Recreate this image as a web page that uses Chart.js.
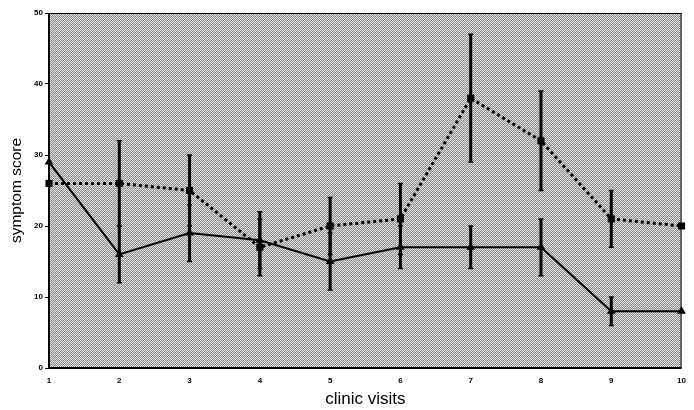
<!DOCTYPE html>
<html>
<head>
<meta charset="utf-8">
<script src="https://cdn.jsdelivr.net/npm/chart.js@4/dist/chart.umd.min.js"></script>
<style>
  html, body { margin: 0; padding: 0; background: #ffffff; }
  #wrap { width: 694px; height: 410px; position: relative; }
</style>
</head>
<body>
<div id="wrap"><canvas id="c" width="694" height="410"></canvas></div>
<script>
// ---- data ----
const visits = [1, 2, 3, 4, 5, 6, 7, 8, 9, 10];
const dottedScores = [26, 26, 25, 17, 20, 21, 38, 32, 21, 20];
const dottedUpper  = [null, 32, 30, 21, 24, 26, 47, 39, 25, null];
const dottedLower  = [null, 20, 20, 13, 16, 16, 29, 25, 17, null];
const solidScores  = [29, 16, 19, 18, 15, 17, 17, 17, 8, 8];
const solidUpper   = [null, 20, 23, 22, 19, 20, 20, 21, 10, null];
const solidLower   = [null, 12, 15, 14, 11, 14, 14, 13, 6, null];
const yTicks = [0, 10, 20, 30, 40, 50];
const xTitle = 'clinic visits';
const yTitle = 'symptom score';

// stippled grey texture
function makePattern() {
  const p = document.createElement('canvas');
  p.width = 4; p.height = 4;
  const g = p.getContext('2d');
  const cols = [
    ['#e0e0e0', '#909090', '#cccccc', '#808080'],
    ['#a0a0a0', '#eaeaea', '#8e8e8e', '#d6d6d6'],
    ['#d4d4d4', '#848484', '#e4e4e4', '#969696'],
    ['#8c8c8c', '#dadada', '#9a9a9a', '#e6e6e6']
  ];
  for (let r = 0; r < 4; r++) for (let c = 0; c < 4; c++) {
    g.fillStyle = cols[r][c]; g.fillRect(c, r, 1, 1);
  }
  return p;
}

const bgPlugin = {
  id: 'bg',
  beforeDraw(chart) {
    const { ctx, chartArea: a } = chart;
    ctx.save();
    ctx.fillStyle = ctx.createPattern(makePattern(), 'repeat');
    ctx.fillRect(a.left, a.top, a.right - a.left, a.bottom - a.top);
    ctx.restore();
  },
  afterDraw(chart) {
    const { ctx, chartArea: a } = chart;
    ctx.save();
    ctx.strokeStyle = '#000';
    ctx.lineWidth = 1;
    ctx.beginPath();
    ctx.moveTo(a.left, a.top + 0.5); ctx.lineTo(a.right, a.top + 0.5);
    ctx.moveTo(a.right - 0.5, a.top); ctx.lineTo(a.right - 0.5, a.bottom);
    ctx.stroke();
    ctx.lineWidth = 2;
    ctx.beginPath();
    ctx.moveTo(a.left, a.top); ctx.lineTo(a.left, a.bottom);
    ctx.lineTo(a.right, a.bottom);
    ctx.stroke();
    ctx.restore();
  }
};

const errPlugin = {
  id: 'err',
  beforeDatasetsDraw(chart) {
    const { ctx } = chart;
    const xs = chart.scales.x, ys = chart.scales.y;
    ctx.save();
    ctx.strokeStyle = '#000';
    const sets = [[dottedUpper, dottedLower], [solidUpper, solidLower]];
    sets.forEach(([up, lo]) => {
      visits.forEach((v, i) => {
        if (up[i] == null || lo[i] == null) return;
        const x = xs.getPixelForValue(v);
        const y1 = ys.getPixelForValue(up[i]);
        const y2 = ys.getPixelForValue(lo[i]);
        ctx.lineWidth = 3;
        ctx.beginPath(); ctx.moveTo(x, y1); ctx.lineTo(x, y2); ctx.stroke();
        ctx.lineWidth = 1.5;
        ctx.beginPath();
        ctx.moveTo(x - 2.5, y1); ctx.lineTo(x + 2.5, y1);
        ctx.moveTo(x - 2.5, y2); ctx.lineTo(x + 2.5, y2);
        ctx.stroke();
      });
    });
    ctx.restore();
  }
};

new Chart(document.getElementById('c'), {
  type: 'line',
  data: {
    datasets: [
      {
        label: 'dotted',
        data: visits.map((v, i) => ({ x: v, y: dottedScores[i] })),
        borderColor: '#000', backgroundColor: '#000',
        borderWidth: 3, borderDash: [3, 3],
        pointStyle: 'rect', pointRadius: 5, pointBorderWidth: 0,
        tension: 0, clip: false
      },
      {
        label: 'solid',
        data: visits.map((v, i) => ({ x: v, y: solidScores[i] })),
        borderColor: '#000', backgroundColor: '#000',
        borderWidth: 2,
        pointStyle: 'triangle', pointRadius: 5, pointBorderWidth: 0,
        tension: 0, clip: false
      }
    ]
  },
  options: {
    responsive: false,
    animation: false,
    layout: { padding: { left: 0, right: 3, top: 13, bottom: 0 } },
    plugins: { legend: { display: false }, tooltip: { enabled: false } },
    scales: {
      x: {
        type: 'linear', min: 1, max: 10,
        afterFit(s) { s.height = 42; },
        afterBuildTicks(s) { s.ticks = visits.map(v => ({ value: v })); },
        grid: { drawOnChartArea: false, drawTicks: false },
        border: { display: false },
        ticks: { color: '#000', font: { family: 'Liberation Sans', size: 8, weight: 'bold' }, padding: 8, maxRotation: 0 },
        title: { display: true, text: xTitle, color: '#000', font: { family: 'Liberation Sans', size: 17 }, padding: { top: 0, bottom: 0 } }
      },
      y: {
        type: 'linear', min: 0, max: 50,
        afterFit(s) { s.width = 49; },
        afterBuildTicks(s) { s.ticks = yTicks.map(v => ({ value: v })); },
        grid: { drawOnChartArea: false, drawTicks: true, tickLength: 4, color: '#000', lineWidth: 1 },
        border: { display: false },
        ticks: { color: '#000', font: { family: 'Liberation Sans', size: 8, weight: 'bold' }, padding: 2 },
        title: { display: true, text: yTitle, color: '#000', font: { family: 'Liberation Sans', size: 15.5 }, padding: { top: 7, bottom: 0 } }
      }
    }
  },
  plugins: [bgPlugin, errPlugin]
});
</script>
</body>
</html>
